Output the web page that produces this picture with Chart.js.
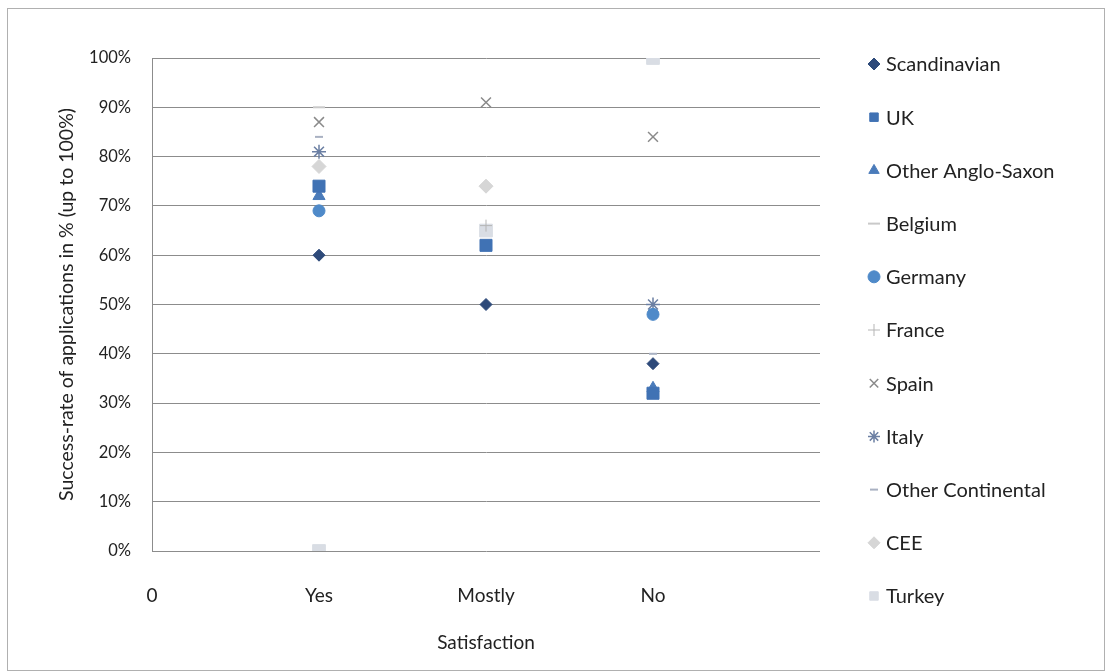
<!DOCTYPE html>
<html>
<head>
<meta charset="utf-8">
<script src="https://cdn.jsdelivr.net/npm/chart.js@4/dist/chart.umd.min.js"></script>
<style>
  html, body { margin: 0; padding: 0; background: #fff; }
  #wrap { position: relative; width: 1109px; height: 671px; }
</style>
</head>
<body>
<div id="wrap"><canvas id="chart" width="1109" height="671"></canvas></div>
<script>
// x positions of the answer categories
const categories = ['0', 'Yes', 'Mostly', 'No'];
const categoryX = [1, 2, 3];

// success rate (%) per group for Yes / Mostly / No
const seriesNames = ['Scandinavian', 'UK', 'Other Anglo-Saxon', 'Belgium', 'Germany', 'France',
                     'Spain', 'Italy', 'Other Continental', 'CEE', 'Turkey'];
const scandinavian = [60, 50, 38];
const uk = [74, 62, 32];
const otherAngloSaxon = [72, null, 33];
const belgium = [90, null, null];
const germany = [69, null, 48];
const france = [null, 66, null];
const spain = [87, 91, 84];
const italy = [81, null, 50];
const otherContinental = [84, null, 40];
const cee = [78, 74, null];
const turkey = [0, 65, 100];

const seriesValues = [scandinavian, uk, otherAngloSaxon, belgium, germany, france,
                      spain, italy, otherContinental, cee, turkey];

const styles = [
    { pointStyle: 'rectRot',  radius: 6,   color: '#2e4a7a', border: 1 },
    { pointStyle: 'rect',     radius: 8.5, color: '#4072b4', border: 1 },
    { pointStyle: 'triangle', radius: 7,   color: '#4a7bba', border: 1 },
    { pointStyle: 'line',     radius: 6,   color: '#c9c9c9', border: 2 },
    { pointStyle: 'circle',   radius: 6,   color: '#4f8ac9', border: 1 },
    { pointStyle: 'cross',    radius: 6,   color: '#b5b5b5', border: 1 },
    { pointStyle: 'crossRot', radius: 7,   color: '#8a8a8a', border: 1.5 },
    { pointStyle: 'star',     radius: 7,   color: '#6b7fa3', border: 1.5 },
    { pointStyle: 'line',     radius: 4,   color: '#a9b1c2', border: 2 },
    { pointStyle: 'rectRot',  radius: 7,   color: '#d6d6d6', border: 1 },
    { pointStyle: 'rect',     radius: 9,   color: '#d9dde4', border: 1 }
];

const FONT = 'Lato, "Open Sans", sans-serif';

const datasets = seriesNames.map((name, i) => {
    const pts = [];
    seriesValues[i].forEach((v, j) => {
        if (v !== null) pts.push({ x: categoryX[j], y: v });
    });
    const s = styles[i];
    return {
        label: name,
        data: pts,
        pointStyle: s.pointStyle,
        pointRadius: s.radius,
        pointHoverRadius: s.radius,
        pointBorderWidth: s.border,
        backgroundColor: s.color,
        borderColor: s.color,
        showLine: false
    };
});

// legend drawn by hand so it sits where the original one is
const sideLegend = {
    id: 'sideLegend',
    afterDraw(chart) {
        const ctx = chart.ctx;
        ctx.save();
        ctx.font = '20px ' + FONT;
        ctx.textBaseline = 'middle';
        chart.data.datasets.forEach((ds, i) => {
            const y = 64 + i * 53.2;
            ctx.fillStyle = ds.backgroundColor;
            ctx.strokeStyle = ds.borderColor;
            ctx.lineWidth = ds.pointBorderWidth;
            Chart.helpers.drawPoint(ctx, {
                pointStyle: ds.pointStyle,
                radius: Math.min(ds.pointRadius, 6),
                rotation: 0,
                borderWidth: ds.pointBorderWidth
            }, 874, y);
            ctx.fillStyle = '#222';
            ctx.fillText(ds.label, 886, y + 1);
        });
        ctx.restore();
    }
};

const frame = {
    id: 'frame',
    beforeDraw(chart) {
        const ctx = chart.ctx;
        ctx.save();
        ctx.fillStyle = '#fff';
        ctx.fillRect(0, 0, chart.width, chart.height);
        ctx.strokeStyle = '#b0b0b0';
        ctx.lineWidth = 1;
        ctx.strokeRect(7.5, 8.5, 1097, 662);
        ctx.restore();
    }
};

new Chart(document.getElementById('chart'), {
    type: 'scatter',
    data: { datasets: datasets },
    plugins: [frame, sideLegend],
    options: {
        responsive: false,
        animation: false,
        layout: { padding: { left: 50, right: 289, top: 58, bottom: 10 } },
        plugins: {
            legend: { display: false },
            tooltip: { enabled: false }
        },
        scales: {
            x: {
                type: 'linear',
                min: 0,
                max: 4,
                afterFit(scale) { scale.height = 110; },
                afterBuildTicks(scale) {
                    scale.ticks = [0, 1, 2, 3].map(v => ({ value: v }));
                },
                ticks: {
                    padding: 25,
                    color: '#222',
                    font: { family: FONT, size: 19 },
                    callback: v => categories[v] ?? ''
                },
                grid: { display: false },
                border: { display: false },
                title: {
                    display: true,
                    text: 'Satisfaction',
                    color: '#222',
                    font: { family: FONT, size: 19 },
                    padding: { top: 0, bottom: 7 }
                }
            },
            y: {
                min: 0,
                max: 100,
                afterFit(scale) { scale.width = 102; },
                ticks: {
                    stepSize: 10,
                    padding: 21,
                    color: '#222',
                    font: { family: FONT, size: 16.5 },
                    callback: v => v + '%'
                },
                grid: { color: '#8c8c8c', lineWidth: 1, drawTicks: false },
                border: { display: true, color: '#8c8c8c' },
                title: {
                    display: true,
                    text: 'Success-rate of applications in % (up to 100%)',
                    color: '#222',
                    font: { family: FONT, size: 19.5 },
                    padding: { top: 5, bottom: 0 }
                }
            }
        }
    }
});
</script>
</body>
</html>
